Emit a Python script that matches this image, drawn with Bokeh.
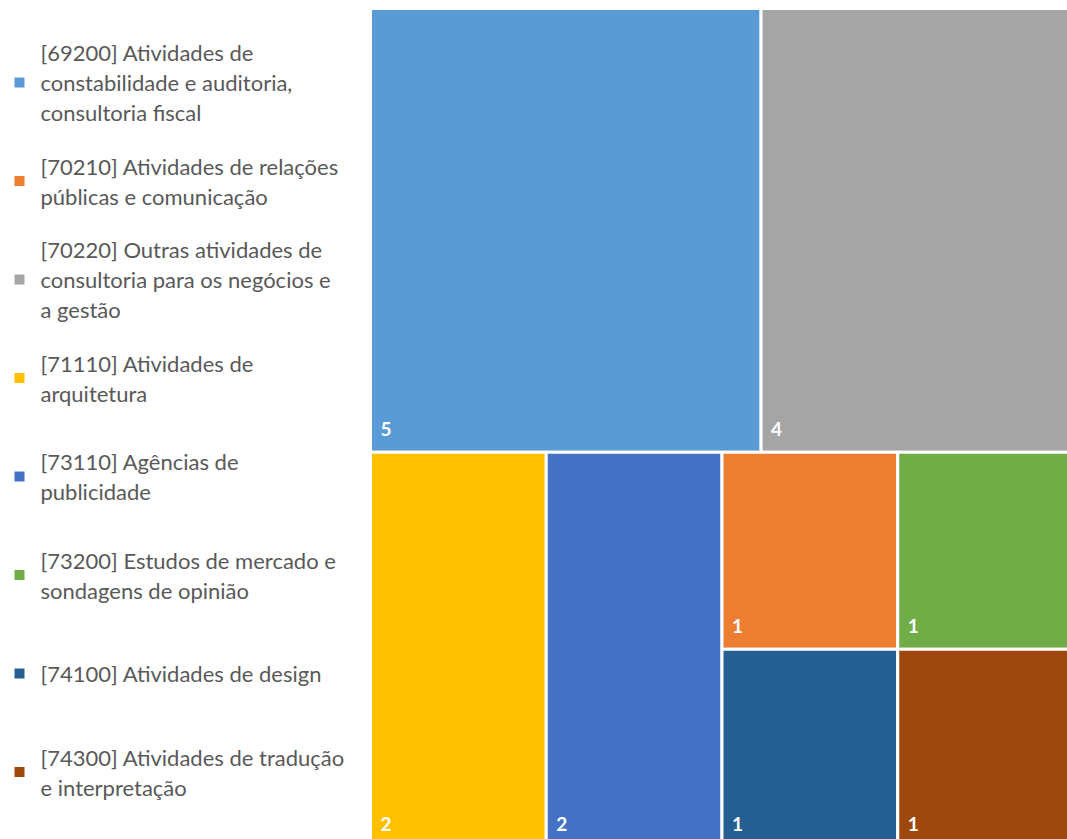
from bokeh.plotting import figure
from bokeh.models import Range1d, ColumnDataSource
from bokeh.core.properties import value
from bokeh.embed import file_html
from bokeh.resources import INLINE

# ---- data ----
categories = [
    "[69200] Atividades de\nconstabilidade e auditoria,\nconsultoria fiscal",
    "[70210] Atividades de relações\npúblicas e comunicação",
    "[70220] Outras atividades de\nconsultoria para os negócios e\na gestão",
    "[71110] Atividades de\narquitetura",
    "[73110] Agências de\npublicidade",
    "[73200] Estudos de mercado e\nsondagens de opinião",
    "[74100] Atividades de design",
    "[74300] Atividades de tradução\ne interpretação",
]
values = [5, 1, 4, 2, 2, 1, 1, 1]
colors = ["#5B9BD5", "#ED7D31", "#A5A5A5", "#FFC000",
          "#4472C4", "#70AD47", "#255E91", "#9E480E"]
# tile arrangement (indices into categories): rows -> items (an item may be a stacked column)
arrangement = [[0, 2], [3, 4, [1, 6], [5, 7]]]

# ---- layout constants (pixels) ----
FIG_W, FIG_H = 1067, 839
TM_X0, TM_Y0 = 370, 8      # treemap origin
TM_W, TM_H = 703, 838      # treemap full size (extends past the window)
FONT = "Lato"

# ---- treemap layout computed from values ----
def total(item):
    if isinstance(item, list):
        return sum(total(i) for i in item)
    return values[item]

lefts, rights, tops, bottoms, cols, labs = [], [], [], [], [], []
grand = total(arrangement)
y = TM_Y0
for row in arrangement:
    rh = TM_H * total(row) / grand
    x = TM_X0
    for item in row:
        iw = TM_W * total(item) / total(row)
        members = item if isinstance(item, list) else [item]
        yy = y
        for m in members:
            mh = rh * values[m] / total(item)
            lefts.append(x); rights.append(x + iw)
            tops.append(yy); bottoms.append(yy + mh)
            cols.append(colors[m]); labs.append(str(values[m]))
            yy += mh
        x += iw
    y += rh

src = ColumnDataSource(dict(left=lefts, right=rights, top=tops, bottom=bottoms,
                            color=cols, lab=labs,
                            lx=[l + 10 for l in lefts], ly=[b - 23 for b in bottoms]))

p = figure(width=FIG_W, height=FIG_H, x_range=Range1d(0, FIG_W), y_range=Range1d(FIG_H, 0),
           x_axis_type=None, y_axis_type=None, output_backend="svg",
           toolbar_location=None, min_border=0)
p.grid.visible = False
p.outline_line_color = None
p.background_fill_color = "white"
p.border_fill_color = "white"

p.quad(left="left", right="right", top="top", bottom="bottom", fill_color="color",
       line_color="white", line_width=3, source=src)
p.text(x="lx", y="ly", text="lab", source=src, text_color="white",
       text_font=value(FONT), text_font_style="bold", text_font_size="19px",
       text_baseline="middle", text_align="left")

# ---- legend drawn manually ----
LEG_Y0, LEG_STEP, LINE_H = 82, 98.5, 30
mx, my, mc = [], [], []
tx, ty, tt = [], [], []
for i, cat in enumerate(categories):
    cy = LEG_Y0 + i * LEG_STEP
    mx.append(19); my.append(cy); mc.append(colors[i])
    lines = cat.split("\n")
    n = len(lines)
    for k, ln in enumerate(lines):
        tx.append(40); ty.append(cy + (k - (n - 1) / 2) * LINE_H); tt.append(ln)

p.rect(x=mx, y=my, width=10, height=10, fill_color=mc, line_color=None)
p.text(x=tx, y=ty, text=tt, text_color="#595959", text_font=value(FONT),
       text_font_size="22px", text_baseline="middle", text_align="left")

open("out.html", "w").write(file_html(p, INLINE))
